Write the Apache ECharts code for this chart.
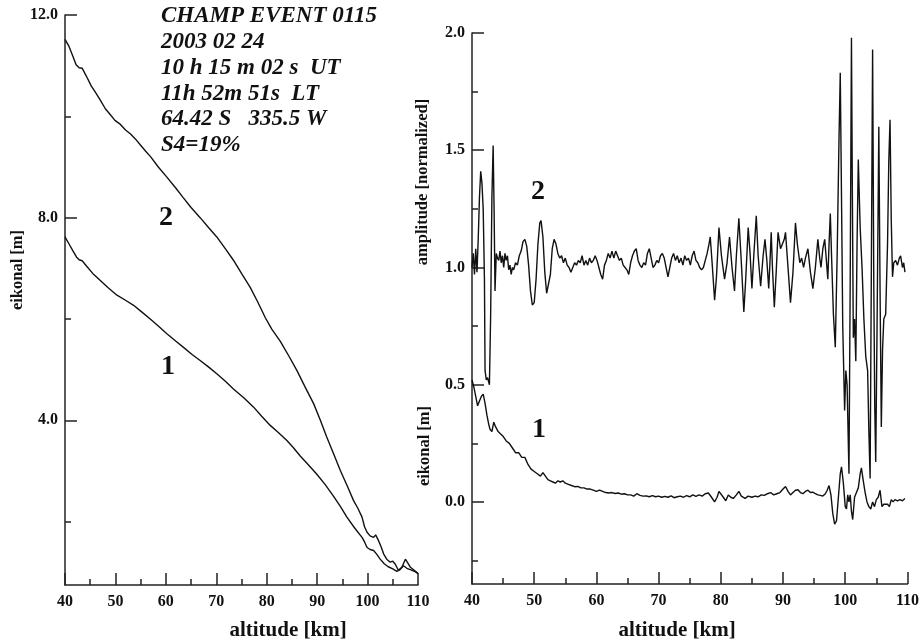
<!DOCTYPE html>
<html><head><meta charset="utf-8">
<script src="https://cdn.jsdelivr.net/npm/echarts@6/dist/echarts.min.js"></script>
<style>html,body{margin:0;padding:0;background:#fff}#c{width:922px;height:643px}</style>
</head><body><div id="c"></div>
<script>
// ---- Left panel: eikonal curves ----
const altL2 = [40,40.8,41.5,42.2,42.8,43.4,44.2,45.2,46.2,47.0,48.0,49.0,49.9,51.0,52.0,53.0,54.0,55.0,56.0,57.0,58.5,60.2,62.0,63.4,65.0,66.8,68.5,70.1,72.0,73.4,75.0,76.7,78.2,79.7,81.0,82.7,84.5,86.0,87.6,89.3,90.6,91.9,93.3,94.6,96.0,97.2,98.1,98.9,99.4,99.9,100.5,101.2,101.6,102.2,102.7,103.2,103.8,104.5,105.0,105.5,106.1,106.8,107.5,108.0,108.5,109.0,109.5,110];
const eikL2 = [11.52,11.38,11.2,11.02,10.96,10.95,10.8,10.6,10.45,10.32,10.15,10.03,9.92,9.84,9.73,9.65,9.55,9.43,9.31,9.2,9.0,8.8,8.58,8.4,8.2,8.0,7.8,7.62,7.36,7.16,6.9,6.63,6.34,6.03,5.8,5.56,5.25,4.98,4.66,4.33,4.01,3.67,3.33,3.01,2.7,2.42,2.26,2.09,1.9,1.79,1.72,1.69,1.74,1.62,1.5,1.36,1.26,1.2,1.22,1.16,1.04,1.1,1.26,1.18,1.1,1.06,1.02,0.97];
const altL1 = [40,40.8,41.6,42.3,42.8,43.4,44.3,45.5,47.0,48.5,50.3,52.0,53.6,55.2,56.9,58.5,60.2,62.0,63.5,65.2,66.8,68.5,70.1,71.8,73.4,75.5,77.4,79.0,80.7,82.3,84.0,85.3,86.6,88.2,89.9,91.6,93.2,94.6,95.9,97.4,98.9,99.4,99.9,100.5,101.2,101.8,102.5,103.3,104.1,105.0,105.8,106.4,107.1,107.8,108.6,109.5,110];
const eikL1 = [7.62,7.48,7.34,7.22,7.17,7.15,7.04,6.9,6.76,6.62,6.47,6.37,6.27,6.14,6.0,5.86,5.71,5.56,5.44,5.3,5.18,5.05,4.92,4.77,4.62,4.44,4.26,4.08,3.9,3.76,3.6,3.46,3.3,3.13,2.94,2.73,2.51,2.3,2.09,1.88,1.69,1.6,1.49,1.45,1.43,1.36,1.26,1.17,1.11,1.07,1.02,1.05,1.13,1.08,1.05,1.01,0.98];

// ---- Right panel: amplitude (2) and eikonal residual (1) ----
const altAmp = [40.0,40.2,40.4,40.6,40.8,41.0,41.2,41.4,41.6,41.8,42.0,42.1,42.3,42.5,42.8,43.0,43.2,43.4,43.55,43.7,43.9,44.1,44.3,44.5,44.7,44.9,45.1,45.3,45.5,45.7,45.9,46.1,46.3,46.5,46.7,47.0,47.3,47.6,47.9,48.2,48.5,48.8,49.1,49.4,49.7,50.0,50.3,50.6,50.9,51.1,51.4,51.7,52.0,52.3,52.6,52.9,53.2,53.5,53.8,54.1,54.4,54.7,55.0,55.3,55.6,55.9,56.2,56.5,56.8,57.1,57.4,57.7,58.0,58.3,58.6,58.9,59.2,59.5,59.8,60.1,60.4,60.7,61.0,61.3,61.6,61.9,62.2,62.5,62.8,63.1,63.4,63.7,64.0,64.3,64.6,64.9,65.2,65.5,65.8,66.1,66.4,66.7,67.0,67.3,67.6,67.9,68.2,68.5,68.8,69.1,69.4,69.7,70.0,70.3,70.6,70.9,71.2,71.5,71.8,72.1,72.4,72.7,73.0,73.3,73.6,73.9,74.2,74.5,74.8,75.1,75.4,75.7,76.0,76.3,76.6,76.9,77.2,77.5,77.8,78.1,78.3,78.6,79.0,79.3,79.7,80.1,80.6,81.0,81.4,81.8,82.2,82.5,82.9,83.3,83.7,84.0,84.4,84.7,85.0,85.3,85.7,86.0,86.4,86.8,87.1,87.4,87.7,87.9,88.1,88.3,88.6,88.9,89.2,89.6,89.9,90.2,90.4,90.8,91.2,91.6,92.0,92.3,92.7,93.0,93.3,93.6,94.0,94.4,94.8,95.2,95.6,95.9,96.1,96.4,96.7,97.0,97.2,97.4,97.6,97.8,98.1,98.4,98.7,99.0,99.2,99.4,99.6,99.9,100.1,100.3,100.6,100.8,101.0,101.15,101.3,101.5,101.7,101.9,102.1,102.4,102.7,103.0,103.3,103.6,103.8,104.0,104.2,104.4,104.6,104.75,104.9,105.1,105.4,105.6,105.8,106.0,106.2,106.5,106.8,107.0,107.2,107.4,107.6,107.8,108.1,108.4,108.7,108.9,109.2,109.4,109.6];
const ampVal = [1.00,1.06,0.97,1.08,0.98,1.12,1.30,1.41,1.36,1.25,0.95,0.56,0.52,0.53,0.50,0.80,1.30,1.52,1.25,0.90,1.06,1.04,1.03,1.07,1.02,1.05,1.00,1.06,1.03,1.05,0.99,1.01,0.97,1.00,0.99,1.02,1.01,1.05,1.07,1.11,1.12,1.09,1.01,0.90,0.84,0.85,0.95,1.10,1.19,1.20,1.13,0.98,0.89,0.89,0.97,1.08,1.12,1.10,1.06,1.04,1.05,1.02,1.04,1.01,1.00,0.98,1.00,1.02,1.01,1.03,1.02,1.05,1.01,1.03,1.01,1.04,1.02,1.03,1.05,1.03,1.00,0.97,0.95,1.01,1.03,1.06,1.04,1.07,1.04,1.07,1.05,1.03,1.04,1.01,1.00,0.99,0.97,1.02,1.05,1.07,1.08,1.03,1.01,1.00,1.02,1.01,1.06,1.08,1.04,1.00,1.01,1.03,1.02,1.05,1.06,1.04,1.00,0.96,1.00,1.04,1.06,1.03,1.05,1.02,1.04,1.01,1.05,1.03,1.04,1.01,1.05,1.07,1.03,1.02,1.00,0.99,1.00,1.03,1.06,1.10,1.13,1.02,0.86,0.96,1.17,1.05,0.95,1.02,1.13,1.00,0.90,1.05,1.21,1.02,0.81,0.95,1.17,1.06,0.91,1.05,1.22,1.05,0.92,1.05,1.12,1.03,0.91,1.02,1.15,1.00,0.83,0.98,1.15,1.08,1.10,1.12,1.15,1.00,0.85,0.98,1.19,1.10,1.02,1.04,1.00,1.04,1.08,0.98,0.91,1.00,1.12,1.04,1.00,1.08,1.12,1.02,0.95,1.10,1.23,1.05,0.80,0.66,1.05,1.55,1.83,1.30,0.75,0.39,0.56,0.50,0.12,0.95,1.98,1.30,0.70,0.78,0.60,1.10,1.46,1.17,1.00,0.78,0.62,0.56,0.30,0.10,1.00,1.93,0.89,0.40,0.17,0.70,1.60,0.90,0.32,0.65,0.78,0.80,1.10,1.45,1.63,1.20,0.96,1.02,1.03,1.01,1.04,1.05,1.00,1.02,0.98];
const altRes = [40.0,40.3,40.6,40.9,41.2,41.5,41.8,42.1,42.4,42.7,42.9,43.2,43.5,43.8,44.2,44.6,45.0,45.5,46.0,46.5,47.0,47.5,48.0,48.5,49.0,49.5,50.0,50.5,51.0,51.4,51.8,52.2,52.6,53.0,53.4,53.8,54.2,54.6,55.0,55.5,56.0,56.5,57.0,57.5,58.0,58.5,59.0,59.5,60.0,60.5,61.0,61.5,62.0,62.5,63.0,63.5,64.0,64.5,65.0,65.5,66.0,66.5,67.0,67.5,68.0,68.5,69.0,69.5,70.0,70.5,71.0,71.5,72.0,72.5,73.0,73.5,74.0,74.5,75.0,75.5,76.0,76.5,77.0,77.5,78.0,78.5,79.0,79.4,79.7,80.0,80.4,80.8,81.2,81.6,82.0,82.5,82.9,83.3,83.9,84.4,85.0,85.5,86.0,86.5,87.0,87.5,88.0,88.5,89.0,89.5,90.0,90.4,90.8,91.2,91.6,92.0,92.4,92.8,93.2,93.6,94.0,94.4,94.8,95.2,95.6,96.0,96.4,96.8,97.1,97.4,97.7,98.0,98.3,98.6,98.9,99.2,99.4,99.7,100.0,100.2,100.4,100.6,100.8,101.0,101.2,101.5,101.8,102.1,102.4,102.6,102.9,103.2,103.5,103.8,104.1,104.4,104.7,105.0,105.3,105.6,105.9,106.2,106.5,106.8,107.1,107.4,107.7,108.0,108.4,108.8,109.2,109.6];
const resVal = [0.52,0.49,0.45,0.41,0.43,0.45,0.46,0.42,0.37,0.33,0.31,0.30,0.34,0.32,0.30,0.29,0.28,0.26,0.25,0.23,0.21,0.21,0.19,0.19,0.16,0.14,0.13,0.12,0.11,0.125,0.11,0.095,0.09,0.085,0.08,0.09,0.085,0.09,0.08,0.075,0.07,0.065,0.066,0.06,0.06,0.055,0.055,0.05,0.045,0.05,0.045,0.04,0.038,0.04,0.036,0.038,0.033,0.035,0.03,0.03,0.025,0.035,0.028,0.025,0.026,0.022,0.027,0.022,0.025,0.02,0.024,0.02,0.026,0.018,0.022,0.025,0.02,0.027,0.022,0.03,0.024,0.03,0.025,0.035,0.038,0.02,0.0,0.02,0.045,0.05,0.02,0.005,0.03,0.02,0.015,0.03,0.045,0.025,0.015,0.025,0.02,0.025,0.022,0.03,0.028,0.035,0.04,0.03,0.035,0.04,0.055,0.066,0.045,0.03,0.04,0.05,0.052,0.04,0.035,0.045,0.05,0.04,0.042,0.035,0.03,0.028,0.025,0.035,0.05,0.07,0.03,-0.05,-0.095,-0.08,0.02,0.12,0.15,0.08,-0.02,-0.03,0.03,0.0,0.03,-0.04,-0.075,0.02,0.04,0.06,0.12,0.145,0.09,0.04,0.0,-0.02,-0.03,0.0,-0.02,0.01,0.02,0.05,-0.02,-0.01,-0.015,-0.01,-0.02,0.01,0.0,0.01,0.005,0.01,0.005,0.015];

const leftMajor = [4, 8, 12];
const leftMinor = [2, 6, 10];
const rightMajor = [0, 0.5, 1.0, 1.5, 2.0];
const rightMinor = [-0.25, 0.25, 0.75, 1.25, 1.75];

const infoLines = ['CHAMP EVENT 0115','2003 02 24','10 h 15 m 02 s  UT','11h 52m 51s  LT','64.42 S   335.5 W','S4=19%'];

const pair = (xs, ys) => xs.map((x, i) => [x, ys[i]]);
const FF = 'Liberation Serif';
const lineCol = '#222';
const tickLab = {fontFamily: FF, fontWeight: 'bold', fontSize: 16, color: '#111'};

function xAx(gi) {
  return {
    type: 'value', gridIndex: gi, min: 40, max: 110, interval: 10,
    axisLine: {show: true, onZero: false, lineStyle: {color: lineCol, width: 1.5}},
    axisTick: {show: true, inside: true, length: 12, lineStyle: {color: lineCol, width: 1.5}},
    minorTick: {show: true, splitNumber: 2, length: 6, lineStyle: {color: lineCol, width: 1.5}},
    splitLine: {show: false},
    axisLabel: Object.assign({margin: 9}, tickLab)
  };
}
function yAx(gi, min, max, major, minor, isMinor) {
  return {
    type: 'value', gridIndex: gi, min: min, max: max, position: 'left',
    axisLine: {show: !isMinor, onZero: false, lineStyle: {color: lineCol, width: 1.5}},
    axisTick: {show: true, inside: true, length: isMinor ? 6 : 12, customValues: isMinor ? minor : major,
               lineStyle: {color: lineCol, width: 1.5}},
    splitLine: {show: false},
    axisLabel: isMinor ? {show: false} : Object.assign({margin: 7, customValues: major,
               formatter: v => v.toFixed(1)}, tickLab)
  };
}

const chart = echarts.init(document.getElementById('c'));
const graphics = [];
infoLines.forEach((t, i) => {
  graphics.push({type: 'text', left: 161, top: 5 + i * 25.7,
    style: {text: t, font: 'italic bold 23px "' + FF + '"', fill: '#111'}});
});
const tx = (x, y, t, size, rot) => ({type: 'text', x: x, y: y, rotation: rot || 0,
  style: {text: t, font: 'bold ' + size + 'px "' + FF + '"', fill: '#111', align: 'center', verticalAlign: 'middle'}});
graphics.push(tx(166, 218, '2', 28), tx(168, 367, '1', 28), tx(538, 192, '2', 28), tx(539, 430, '1', 28));
graphics.push(tx(288, 631, 'altitude [km]', 21), tx(677, 631, 'altitude [km]', 21));
graphics.push(tx(18, 270, 'eikonal [m]', 16.5, Math.PI / 2), tx(423, 182, 'amplitude [normalized]', 16.5, Math.PI / 2),
  tx(425, 446, 'eikonal [m]', 16.5, Math.PI / 2));

const ls = {color: '#111', width: 1.4};
chart.setOption({
  animation: false,
  backgroundColor: '#fff',
  grid: [
    {left: 65, top: 15, width: 353, height: 570},
    {left: 472, top: 33, width: 438, height: 551}
  ],
  xAxis: [xAx(0), xAx(1)],
  yAxis: [
    yAx(0, 0.75, 12, leftMajor, leftMinor, false),
    yAx(0, 0.75, 12, leftMajor, leftMinor, true),
    yAx(1, -0.35, 2.0, rightMajor, rightMinor, false),
    yAx(1, -0.35, 2.0, rightMajor, rightMinor, true)
  ],
  series: [
    {type: 'line', xAxisIndex: 0, yAxisIndex: 0, data: pair(altL2, eikL2), showSymbol: false, lineStyle: ls},
    {type: 'line', xAxisIndex: 0, yAxisIndex: 0, data: pair(altL1, eikL1), showSymbol: false, lineStyle: ls},
    {type: 'line', xAxisIndex: 1, yAxisIndex: 2, data: pair(altAmp, ampVal), showSymbol: false, lineStyle: ls},
    {type: 'line', xAxisIndex: 1, yAxisIndex: 2, data: pair(altRes, resVal), showSymbol: false, lineStyle: ls}
  ],
  graphic: graphics
});
</script></body></html>
